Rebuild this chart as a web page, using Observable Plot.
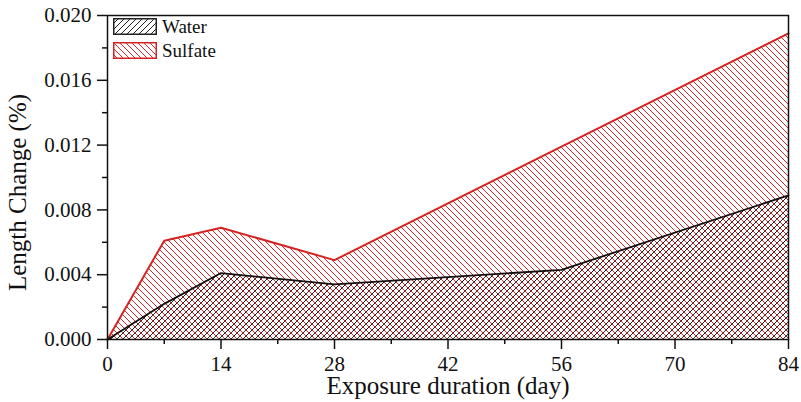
<!DOCTYPE html>
<html>
<head>
<meta charset="utf-8">
<script src="https://cdn.jsdelivr.net/npm/d3@7"></script>
<script src="https://cdn.jsdelivr.net/npm/@observablehq/plot@0.6"></script>
<style>
  body { margin: 0; background: #fff; }
  #wrap { position: relative; width: 801px; height: 402px; font-family: "Liberation Serif", "Times New Roman", serif; }
  #legend { position: absolute; left: 113px; top: 18px; }
  .row { display: flex; align-items: center; height: 17px; margin-bottom: 7px; }
  .row svg { display: block; }
  .row span { font-size: 19px; margin-left: 5px; line-height: 17px; color: #111; }
</style>
</head>
<body>
<svg width="0" height="0" style="position:absolute">
  <defs>
    <pattern id="hatchRed" patternUnits="userSpaceOnUse" width="6" height="6">
      <path d="M0,0L6,6M-1,5L1,7M5,-1L7,1" stroke="#d02a2a" stroke-width="1"/>
    </pattern>
    <pattern id="hatchBlack" patternUnits="userSpaceOnUse" width="6" height="6">
      <path d="M0,6L6,0M-1,1L1,-1M5,7L7,5" stroke="#222" stroke-width="1"/>
    </pattern>
  </defs>
</svg>
<div id="wrap"></div>
<script>
const days = [0, 7, 14, 28, 56, 84];
const water = [0, 0.0022, 0.0041, 0.0034, 0.0043, 0.0089];
const sulfate = [0, 0.0061, 0.0069, 0.0049, 0.0119, 0.0189];
const seriesNames = ["Water", "Sulfate"];
const xTicks = [0, 14, 28, 42, 56, 70, 84];
const xMinor = [7, 21, 35, 49, 63, 77];
const yTicks = [0, 0.004, 0.008, 0.012, 0.016, 0.020];
const yMinor = [0.002, 0.006, 0.010, 0.014, 0.018];
const xLabel = "Exposure duration (day)";
const yLabel = "Length Change (%)";

const rows = days.map((d, i) => ({day: d, water: water[i], sulfate: sulfate[i]}));
const red = "#d42424";
const black = "#111";

const chart = Plot.plot({
  width: 801,
  height: 402,
  marginLeft: 107,
  marginRight: 13,
  marginTop: 15,
  marginBottom: 63,
  style: {fontFamily: "Liberation Serif, Times New Roman, serif", fontSize: "21px", color: "#111", background: "#fff"},
  x: {domain: [0, 84]},
  y: {domain: [0, 0.02]},
  marks: [
    Plot.areaY(rows, {x: "day", y: "sulfate", fill: "url(#hatchRed)"}),
    Plot.areaY(rows, {x: "day", y: "water", fill: "url(#hatchBlack)"}),
    Plot.lineY(rows, {x: "day", y: "sulfate", stroke: red, strokeWidth: 2}),
    Plot.lineY(rows, {x: "day", y: "water", stroke: black, strokeWidth: 1.8}),
    Plot.frame({stroke: black, strokeWidth: 1.5}),
    Plot.axisX(xTicks, {tickSize: 10, tickPadding: 7, strokeWidth: 1.5, label: null, fontSize: 21}),
    Plot.axisX(xMinor, {tickSize: 5, strokeWidth: 1.5, label: null, tickFormat: () => ""}),
    Plot.axisY(yTicks, {tickSize: 10, tickPadding: 6, strokeWidth: 1.5, label: null, fontSize: 21, tickFormat: d3.format(".3f")}),
    Plot.axisY(yMinor, {tickSize: 5, strokeWidth: 1.5, label: null, tickFormat: () => ""}),
    Plot.text([xLabel], {frameAnchor: "bottom", dy: 46, fontSize: 25, fill: black, textAnchor: "middle", lineAnchor: "middle"}),
    Plot.text([yLabel], {frameAnchor: "left", rotate: -90, dx: -90, dy: 15, fontSize: 25, fill: black, textAnchor: "middle", lineAnchor: "middle"})
  ]
});

const wrap = document.getElementById("wrap");
wrap.appendChild(chart);

const legend = document.createElement("div");
legend.id = "legend";
const legendStyles = [
  {fill: "url(#hatchBlack)", stroke: "#222"},
  {fill: "url(#hatchRed)", stroke: red}
];
seriesNames.forEach((name, i) => {
  const row = document.createElement("div");
  row.className = "row";
  row.innerHTML = `<svg width="44" height="17"><rect x="0.75" y="0.75" width="42.5" height="15.5" fill="${legendStyles[i].fill}" stroke="${legendStyles[i].stroke}" stroke-width="1.5"/></svg><span>${name}</span>`;
  legend.appendChild(row);
});
wrap.appendChild(legend);
</script>
</body>
</html>
